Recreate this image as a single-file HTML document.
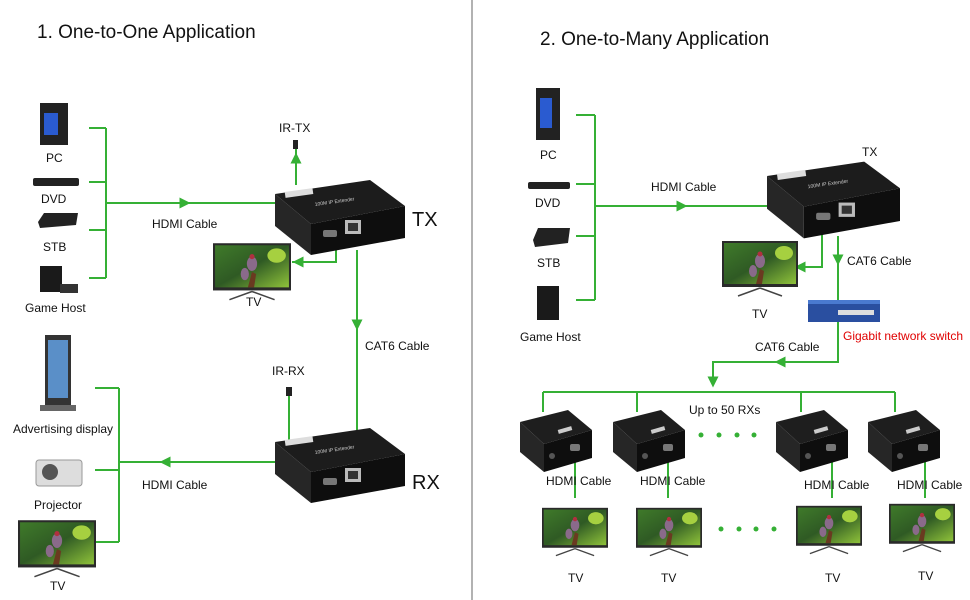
<!DOCTYPE html>
<html><head><meta charset="utf-8"><style>
html,body{margin:0;padding:0;background:#fff}
svg{display:block;font-family:"Liberation Sans",Arial,sans-serif}
</style></head><body>
<svg width="970" height="600" viewBox="0 0 970 600" xmlns="http://www.w3.org/2000/svg">
<defs>
<linearGradient id="scr" x1="0" y1="0" x2="1" y2="1">
<stop offset="0" stop-color="#3f7a2a"/><stop offset="0.5" stop-color="#2f5a24"/><stop offset="1" stop-color="#8fc23a"/></linearGradient>
<symbol id="tv" viewBox="0 0 76 58">
<rect x="0" y="0" width="76" height="46" fill="#2a2a2a"/>
<rect x="2" y="2" width="72" height="41" fill="url(#scr)"/>
<ellipse cx="62" cy="12" rx="9" ry="7" fill="#a6d040"/>
<ellipse cx="38" cy="20" rx="5" ry="7" fill="#8a6a8a"/>
<ellipse cx="31" cy="30" rx="4" ry="6" fill="#8a6a8a"/>
<path d="M34 43 L38 28 L42 30 L40 43Z" fill="#6a3a20"/>
<circle cx="38" cy="13" r="2.5" fill="#b03040"/>
<line x1="38" y1="47" x2="16" y2="55" stroke="#444" stroke-width="1.5"/>
<line x1="38" y1="47" x2="60" y2="55" stroke="#444" stroke-width="1.5"/>
</symbol>
<symbol id="box" viewBox="0 0 130 75">
<polygon points="0,14 95,0 130,26 36,44" fill="#1c1c1c"/>
<polygon points="36,44 130,26 130,58 36,75" fill="#0e0e0e"/>
<polygon points="0,14 36,44 36,75 0,46" fill="#262626"/>
<rect x="10" y="10" width="28" height="6" fill="#ddd" transform="rotate(-8 24 13)"/>
<text x="40" y="26" font-size="5" fill="#ccc" transform="rotate(-8 40 26)">100M IP Extender</text>
<rect x="70" y="40" width="16" height="14" fill="#bbb"/><rect x="73" y="43" width="10" height="8" fill="#333"/>
<rect x="48" y="50" width="14" height="7" rx="2" fill="#777"/>
</symbol>
<symbol id="rx" viewBox="0 0 72 62">
<polygon points="0,12 48,0 72,20 24,34" fill="#1e1e1e"/>
<polygon points="24,34 72,20 72,48 24,62" fill="#0e0e0e"/>
<polygon points="0,12 24,34 24,62 0,42" fill="#262626"/>
<rect x="38" y="18" width="14" height="4" fill="#ccc" transform="rotate(-16 45 20)"/>
<rect x="50" y="34" width="10" height="7" rx="2" fill="#777"/>
<circle cx="32" cy="46" r="3" fill="#555"/>
</symbol>
<marker id="ar" viewBox="0 0 10 10" refX="5" refY="5" markerWidth="5.5" markerHeight="5.5" orient="auto"><path d="M0,0 L10,5 L0,10Z" fill="#35b035"/></marker>
</defs>
<g stroke="#35b035" stroke-width="2" fill="none">
<path d="M89 128H106M89 182H106M89 230H106M89 278H106M106 128V278M106 203H275"/>
<path d="M106 203H185" marker-end="url(#ar)"/>
<path d="M296 185V148"/><path d="M296 185V158" marker-end="url(#ar)"/>
<path d="M336 250V262H292"/><path d="M336 262H298" marker-end="url(#ar)"/>
<path d="M357 250V430"/><path d="M357 250V325" marker-end="url(#ar)"/>
<path d="M289 395V440"/>
<path d="M95 388H119M95 470H119M95 542H119M119 388V542M119 462H275"/>
<path d="M275 462H165" marker-end="url(#ar)"/>
<path d="M576 115H595M576 184H595M576 236H595M576 300H595M595 115V300M595 206H768"/>
<path d="M595 206H682" marker-end="url(#ar)"/>
<path d="M822 230V267H795"/><path d="M822 267H800" marker-end="url(#ar)"/>
<path d="M838 236V302"/><path d="M838 236V260" marker-end="url(#ar)"/>
<path d="M838 322V362H713V378"/><path d="M838 362H780" marker-end="url(#ar)"/><path d="M713 362V382" marker-end="url(#ar)"/>
<path d="M543 392H895M543 392V412M637 392V412M801 392V412M895 392V412"/>
<path d="M575 455V498M668 455V498M832 455V498M925 455V498"/>
</g>
<line x1="472" y1="0" x2="472" y2="600" stroke="#999" stroke-width="1.5"/>
<g font-size="12" fill="#111">
<text x="37" y="38" font-size="19">1. One-to-One Application</text>
<text x="540" y="45" font-size="19">2. One-to-Many Application</text>
<text x="46" y="162">PC</text><text x="41" y="203">DVD</text><text x="43" y="251">STB</text><text x="25" y="312">Game Host</text>
<text x="152" y="228">HDMI Cable</text>
<text x="279" y="132">IR-TX</text><text x="272" y="375">IR-RX</text>
<text x="412" y="226" font-size="20">TX</text><text x="412" y="489" font-size="20">RX</text>
<text x="246" y="306">TV</text>
<text x="365" y="350">CAT6 Cable</text>
<text x="13" y="433">Advertising display</text><text x="34" y="509">Projector</text><text x="50" y="590">TV</text>
<text x="142" y="489">HDMI Cable</text>
<text x="540" y="159">PC</text><text x="535" y="207">DVD</text><text x="537" y="267">STB</text><text x="520" y="341">Game Host</text>
<text x="651" y="191">HDMI Cable</text>
<text x="862" y="156">TX</text><text x="752" y="318">TV</text>
<text x="847" y="265">CAT6 Cable</text>
<text x="843" y="340" fill="#e00000">Gigabit network switch</text>
<text x="755" y="351">CAT6 Cable</text>
<text x="689" y="414">Up to 50 RXs</text>
<text x="546" y="485">HDMI Cable</text><text x="640" y="485">HDMI Cable</text><text x="804" y="489">HDMI Cable</text><text x="897" y="489">HDMI Cable</text>
<text x="568" y="582">TV</text><text x="661" y="582">TV</text><text x="825" y="582">TV</text><text x="918" y="580">TV</text>
</g>
<g fill="#35b035"><circle cx="701" cy="435" r="2.5"/><circle cx="719" cy="435" r="2.5"/><circle cx="737" cy="435" r="2.5"/><circle cx="754" cy="435" r="2.5"/>
<circle cx="721" cy="529" r="2.5"/><circle cx="739" cy="529" r="2.5"/><circle cx="756" cy="529" r="2.5"/><circle cx="774" cy="529" r="2.5"/></g>
<g>
<rect x="40" y="103" width="28" height="42" fill="#222"/><rect x="44" y="113" width="14" height="22" fill="#2a5bd0"/>
<rect x="33" y="178" width="46" height="8" rx="2" fill="#222"/>
<polygon points="38,222 44,213 78,213 76,225 40,228" fill="#222"/>
<rect x="40" y="266" width="22" height="26" fill="#1a1a1a"/><rect x="60" y="284" width="18" height="9" fill="#333"/>
<rect x="45" y="335" width="26" height="70" fill="#333"/><rect x="48" y="340" width="20" height="58" fill="#5a8fc8"/><rect x="40" y="405" width="36" height="6" fill="#666"/>
<rect x="36" y="460" width="46" height="26" rx="3" fill="#ddd" stroke="#999"/><circle cx="50" cy="472" r="8" fill="#555"/>
</g>
<use href="#tv" x="18" y="520" width="78" height="60"/>
<use href="#tv" x="213" y="243" width="78" height="60"/>
<use href="#box" x="275" y="180" width="130" height="75"/>
<use href="#box" x="275" y="428" width="130" height="75"/>
<rect x="293" y="140" width="5" height="9" fill="#222"/>
<rect x="286" y="387" width="6" height="9" fill="#222"/>
<rect x="536" y="88" width="24" height="52" fill="#222"/><rect x="540" y="98" width="12" height="30" fill="#2a5bd0"/>
<rect x="528" y="182" width="42" height="7" rx="2" fill="#222"/>
<polygon points="533,240 538,228 570,228 568,243 535,247" fill="#222"/>
<rect x="537" y="286" width="22" height="34" fill="#1a1a1a"/>
<use href="#box" x="767" y="160" width="133" height="80"/>
<use href="#tv" x="722" y="238" width="76" height="64"/>
<rect x="808" y="300" width="72" height="22" fill="#2a4fa0"/><rect x="808" y="300" width="72" height="4" fill="#4a7ad0"/><rect x="838" y="310" width="36" height="5" fill="#ddd"/>
<use href="#rx" x="520" y="410" width="72" height="62"/>
<use href="#rx" x="613" y="410" width="72" height="62"/>
<use href="#rx" x="776" y="410" width="72" height="62"/>
<use href="#rx" x="868" y="410" width="72" height="62"/>
<use href="#tv" x="542" y="507" width="66" height="52"/>
<use href="#tv" x="636" y="507" width="66" height="52"/>
<use href="#tv" x="796" y="505" width="66" height="52"/>
<use href="#tv" x="889" y="503" width="66" height="52"/>
</svg>
</body></html>
